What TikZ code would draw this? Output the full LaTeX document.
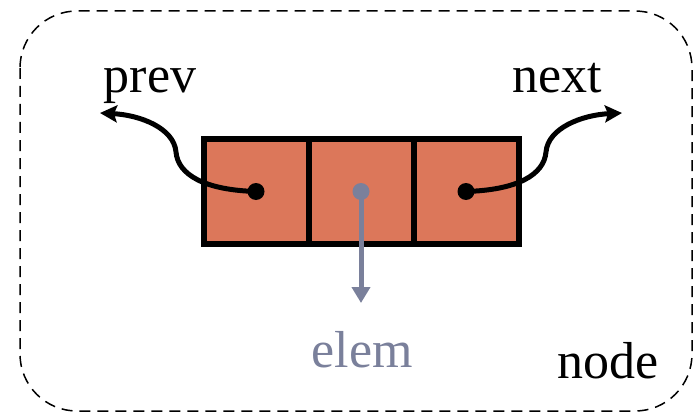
\documentclass[tikz,border=0pt]{standalone}
\usepackage{fontspec}
\setmainfont{Liberation Serif}
\usetikzlibrary{positioning,arrows.meta}
\definecolor{cellfill}{RGB}{220,119,90}
\definecolor{elemgray}{RGB}{122,128,155}
\begin{document}
\begin{tikzpicture}[x=1pt,y=-1pt,
  cell/.style={draw,fill=cellfill,line width=6pt,minimum width=105pt,
    minimum height=105pt,inner sep=0pt,outer sep=0pt},
  dot/.style={circle,fill,inner sep=0pt,minimum size=17pt},
  link/.style={line width=5pt,-{Stealth[length=17pt,width=17pt,inset=3pt]}},
  label/.style={font=\fontsize{52}{60}\selectfont,inner sep=0pt,anchor=base}]
  \useasboundingbox (0,0) rectangle (697,412);
  \draw[line width=1.5pt,dash pattern=on 11pt off 7pt,rounded corners=57pt]
    (20,11) rectangle (692,411);
  \node[cell] (prevcell) at (256,191.5) {};
  \node[cell,right=0pt of prevcell] (elemcell) {};
  \node[cell,right=0pt of elemcell] (nextcell) {};
  \node[dot] (prevdot) at (prevcell.center) {};
  \node[dot,elemgray] (elemdot) at (elemcell.center) {};
  \node[dot] (nextdot) at (nextcell.center) {};
  \coordinate (prevtip) at (100,113);
  \coordinate (nexttip) at (622,113);
  \coordinate (elemtip) at (elemdot.center |- 0,303);
  \draw[link] (prevdot.center) .. controls (205,190) and (178,175) .. (176,152)
    .. controls (174,128) and (140,115) .. (prevtip);
  \draw[link] (nextdot.center) .. controls (517,190) and (544,175) .. (546,152)
    .. controls (548,128) and (582,115) .. (nexttip);
  \draw[elemgray,line width=5pt,-{Triangle[length=16pt,width=18pt]}]
    (elemdot.center) -- (elemtip);
  \node[label] (prevlabel) at (150,93) {prev};
  \node[label] (nextlabel) at (557,93) {next};
  \node[label,text=elemgray] (elemlabel) at (362,367) {elem};
  \node[label] (nodelabel) at (608,378) {node};
\end{tikzpicture}
\end{document}
